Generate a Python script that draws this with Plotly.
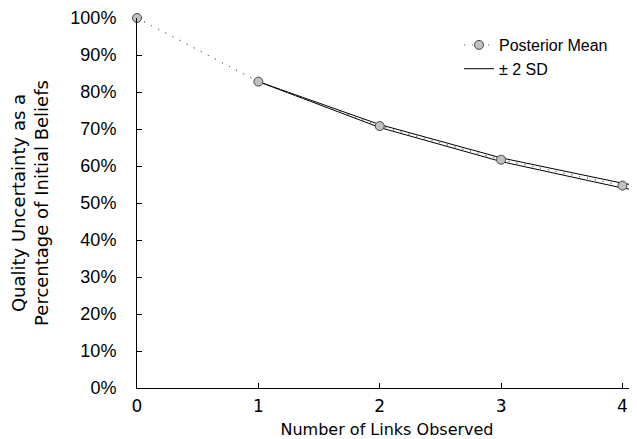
import plotly.graph_objects as go

links = [0, 1, 2, 3, 4, 5]
posterior_mean = [100.0, 82.8, 70.8, 61.7, 54.7, 49.2]
sd_upper = [None, 82.8, 71.2, 62.2, 55.35, 49.95]
sd_lower = [None, 82.8, 70.4, 61.2, 54.05, 48.45]
y_ticks = [0, 10, 20, 30, 40, 50, 60, 70, 80, 90, 100]
y_tick_labels = [f"{v}%" for v in y_ticks]
x_ticks = [0, 1, 2, 3, 4]

fig = go.Figure()

fig.add_trace(go.Scatter(
    x=links[1:], y=sd_upper[1:], mode="lines", name="\u00b1 2 SD",
    line=dict(color="black", width=1), legendgroup="sd", legendrank=2,
))
fig.add_trace(go.Scatter(
    x=links[1:], y=sd_lower[1:], mode="lines", name="\u00b1 2 SD",
    line=dict(color="black", width=1), legendgroup="sd", showlegend=False,
))
fig.add_trace(go.Scatter(
    x=links, y=posterior_mean, mode="lines", name="Posterior Mean",
    line=dict(color="#666666", width=1, dash="1px,7px"), showlegend=False,
))
fig.add_trace(go.Scatter(
    x=links[:5], y=posterior_mean[:5], mode="lines+markers", name="Posterior Mean",
    line=dict(color="#666666", width=1, dash="1px,7px"),
    marker=dict(size=9, color="#c0c0c0", line=dict(color="#444444", width=1)),
    cliponaxis=False, legendrank=1,
))

fig.update_layout(
    width=629, height=431,
    margin=dict(l=129, r=0, t=7, b=51),
    paper_bgcolor="white", plot_bgcolor="white",
    showlegend=True,
    legend=dict(x=0.644, y=0.973, xanchor="left", yanchor="top",
                bgcolor="rgba(0,0,0,0)", font=dict(family="Liberation Sans", size=16, color="black"),
                tracegroupgap=0),
    font=dict(family="Liberation Sans", color="black"),
)
fig.update_xaxes(
    range=[0, 4.12], tickvals=x_ticks, ticks="inside", ticklen=5, tickcolor="black",
    showline=True, linecolor="black", linewidth=1, showgrid=False, zeroline=False,
    ticklabelstandoff=3, ticklabeloverflow="allow",
    tickfont=dict(family="DejaVu Sans", size=17, color="black"),
    title=dict(text="Number of Links Observed", font=dict(family="DejaVu Sans", size=16, color="black"), standoff=10),
)
fig.update_yaxes(
    range=[0, 100], tickvals=y_ticks, ticktext=y_tick_labels, ticks="inside", ticklen=5, tickcolor="black",
    showline=True, linecolor="black", linewidth=1, showgrid=False, zeroline=False,
    ticklabelstandoff=16, ticklabeloverflow="allow",
    tickfont=dict(family="Liberation Sans", size=18, color="black"),
    title=dict(text="Quality Uncertainty as a<br>Percentage of Initial Beliefs",
               font=dict(family="DejaVu Sans", size=18, color="black"), standoff=26),
)

fig.write_html("out.html")
